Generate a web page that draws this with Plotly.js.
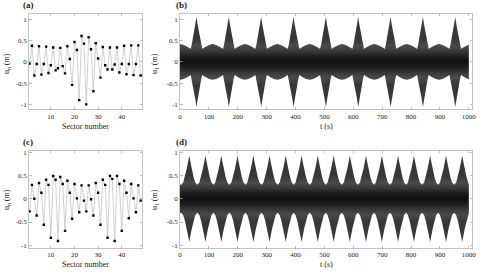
<!DOCTYPE html>
<html><head><meta charset="utf-8">
<script src="https://cdn.plot.ly/plotly-3.0.1.min.js"></script>
<style>html,body{margin:0;padding:0;background:#fff;}#plot{width:495px;height:272px;}</style>
</head><body><div id="plot"></div>
<script>
// Sector numbers for panels (a) and (c)
const sectors = [1,2,3,4,5,6,7,8,9,10,11,12,13,14,15,16,17,18,19,20,21,22,23,24,25,26,27,28,29,30,31,32,33,34,35,36,37,38,39,40,41,42,43,44,45,46,47,48];
// Panel (a): displacement per sector
const uA = [-0.04,0.38,-0.32,-0.05,0.37,-0.30,-0.05,0.36,-0.26,-0.08,0.34,-0.20,-0.15,0.33,-0.10,-0.27,0.37,0.07,-0.54,0.47,0.28,-0.90,0.61,0.43,-1.00,0.58,0.30,-0.69,0.44,0.08,-0.37,0.35,-0.08,-0.18,0.34,-0.18,-0.06,0.34,-0.25,-0.05,0.38,-0.29,-0.05,0.39,-0.31,-0.05,0.39,-0.32];
// Panel (c): displacement per sector
const uC = [-0.27,0.30,0.00,-0.36,0.34,0.13,-0.56,0.41,0.30,-0.84,0.49,0.41,-0.91,0.47,0.32,-0.69,0.39,0.13,-0.43,0.32,0.01,-0.29,0.29,-0.04,-0.27,0.29,-0.01,-0.36,0.34,0.13,-0.56,0.41,0.30,-0.84,0.49,0.43,-0.91,0.49,0.32,-0.69,0.39,0.13,-0.42,0.32,0.01,-0.29,0.29,-0.04];

// Panel (b): envelope of u1(t) (upper; lower is the mirror)
const tB = [0,13,25,
37,41,45,49,53,57,61,65,69,73,77,89,101,113,125,137,
149,153,157,161,165,169,173,177,181,185,189,201,213,225,237,249,
261,265,269,273,277,281,285,289,293,297,301,313,325,337,349,361,
373,377,381,385,389,393,397,401,405,409,413,425,437,449,461,473,
485,489,493,497,501,505,509,513,517,521,525,537,549,561,573,585,
597,601,605,609,613,617,621,625,629,633,637,649,661,673,685,697,
709,713,717,721,725,729,733,737,741,745,749,761,773,785,797,809,
821,825,829,833,837,841,845,849,853,857,861,873,885,897,909,921,
933,937,941,945,949,953,957,961,965,969,973,985,997,1000];
const envB = [0.42,0.40,0.36,
0.31,0.42,0.56,0.72,0.88,1.06,0.88,0.72,0.56,0.42,0.31,0.36,0.40,0.42,0.40,0.36,
0.31,0.42,0.56,0.72,0.88,1.06,0.88,0.72,0.56,0.42,0.31,0.36,0.40,0.42,0.40,0.36,
0.31,0.42,0.56,0.72,0.88,1.06,0.88,0.72,0.56,0.42,0.31,0.36,0.40,0.42,0.40,0.36,
0.31,0.42,0.56,0.72,0.88,1.06,0.88,0.72,0.56,0.42,0.31,0.36,0.40,0.42,0.40,0.36,
0.31,0.42,0.56,0.72,0.88,1.06,0.88,0.72,0.56,0.42,0.31,0.36,0.40,0.42,0.40,0.36,
0.31,0.42,0.56,0.72,0.88,1.06,0.88,0.72,0.56,0.42,0.31,0.36,0.40,0.42,0.40,0.36,
0.31,0.42,0.56,0.72,0.88,1.06,0.88,0.72,0.56,0.42,0.31,0.36,0.40,0.42,0.40,0.36,
0.31,0.42,0.56,0.72,0.88,1.06,0.88,0.72,0.56,0.42,0.31,0.36,0.40,0.42,0.40,0.36,
0.31,0.42,0.56,0.72,0.88,1.06,0.88,0.72,0.56,0.42,0.31,0.36,0.40,0.405];

// Panel (d): envelope of u1(t)
const tD = [0,4,
11,17,23,28,32,36,41,47,53,60,
67,73,79,84,88,92,97,103,109,116,
122,128,134,139,143,147,152,158,164,171,
178,184,190,195,199,203,208,214,220,227,
233,239,245,250,254,258,263,269,275,282,
289,295,301,306,310,314,319,325,331,338,
345,351,357,362,366,370,375,381,387,394,
400,406,412,417,421,425,430,436,442,449,
456,462,468,473,477,481,486,492,498,505,
511,517,523,528,532,536,541,547,553,560,
567,573,579,584,588,592,597,603,609,616,
623,629,635,640,644,648,653,659,665,672,
678,684,690,695,699,703,708,714,720,727,
734,740,746,751,755,759,764,770,776,783,
789,795,801,806,810,814,819,825,831,838,
845,851,857,862,866,870,875,881,887,894,
900,906,912,917,921,925,930,936,942,949,
956,962,968,973,977,981,986,992,998,1000];
const envD = [0.31,0.30,
0.35,0.47,0.64,0.80,0.93,0.80,0.64,0.47,0.35,0.30,
0.35,0.47,0.64,0.80,0.93,0.80,0.64,0.47,0.35,0.30,
0.35,0.47,0.64,0.80,0.93,0.80,0.64,0.47,0.35,0.30,
0.35,0.47,0.64,0.80,0.93,0.80,0.64,0.47,0.35,0.30,
0.35,0.47,0.64,0.80,0.93,0.80,0.64,0.47,0.35,0.30,
0.35,0.47,0.64,0.80,0.93,0.80,0.64,0.47,0.35,0.30,
0.35,0.47,0.64,0.80,0.93,0.80,0.64,0.47,0.35,0.30,
0.35,0.47,0.64,0.80,0.93,0.80,0.64,0.47,0.35,0.30,
0.35,0.47,0.64,0.80,0.93,0.80,0.64,0.47,0.35,0.30,
0.35,0.47,0.64,0.80,0.93,0.80,0.64,0.47,0.35,0.30,
0.35,0.47,0.64,0.80,0.93,0.80,0.64,0.47,0.35,0.30,
0.35,0.47,0.64,0.80,0.93,0.80,0.64,0.47,0.35,0.30,
0.35,0.47,0.64,0.80,0.93,0.80,0.64,0.47,0.35,0.30,
0.35,0.47,0.64,0.80,0.93,0.80,0.64,0.47,0.35,0.30,
0.35,0.47,0.64,0.80,0.93,0.80,0.64,0.47,0.35,0.30,
0.35,0.47,0.64,0.80,0.93,0.80,0.64,0.47,0.35,0.30,
0.35,0.47,0.64,0.80,0.93,0.80,0.64,0.47,0.35,0.30,
0.35,0.47,0.64,0.80,0.93,0.80,0.64,0.47,0.35,0.31];

// Tick labels
const yTickVals = [-1,-0.5,0,0.5,1];
const yTickText = ['-1','-0.5','0','0.5','1'];
const sectorTicks = [10,20,30,40];
const timeTicks = [0,100,200,300,400,500,600,700,800,900,1000];
const timeTickText = ['0','100','200','300','400','500','600','700','800','900','1000'];

const W = 495, H = 272;
const px = x => x / W, py = y => 1 - y / H;
const serif = '"Liberation Serif", serif';

function sectorTrace(y, xa, ya) {
  return {x: sectors, y: y, xaxis: xa, yaxis: ya, type: 'scatter', mode: 'lines+markers',
    line: {color: '#c4c4c4', width: 0.8},
    marker: {symbol: 'square', size: 2.4, color: '#000'}, hoverinfo: 'skip'};
}
function envTrace(t, env, xa, ya, lo, hi) {
  const xs = t.concat(t.slice().reverse());
  const ys = env.concat(env.map(v => -v).reverse());
  return {x: xs, y: ys, xaxis: xa, yaxis: ya, type: 'scatter', mode: 'lines', fill: 'toself',
    line: {width: 0, color: 'rgba(0,0,0,0)'},
    fillgradient: {type: 'vertical', start: lo, stop: hi,
      colorscale: [[0, '#3e3e3e'], [0.25, '#363636'], [0.33, '#4a4a4a'], [0.38, '#3a3a3a'], [0.44, '#1e1e1e'], [0.5, '#101010'],
                   [0.56, '#1e1e1e'], [0.62, '#3a3a3a'], [0.67, '#4a4a4a'], [0.75, '#363636'], [1, '#3e3e3e']]},
    hoverinfo: 'skip'};
}

const data = [
  sectorTrace(uA, 'x', 'y'),
  envTrace(tB, envB, 'x2', 'y2', -1.1, 1.1),
  sectorTrace(uC, 'x3', 'y3'),
  envTrace(tD, envD, 'x4', 'y4', -1.0, 1.0)
];

const axBase = {showline: true, mirror: 'ticks', linecolor: '#b4b4b4', linewidth: 0.8,
  ticks: 'inside', ticklen: 2.5, tickwidth: 0.7, tickcolor: '#a0a0a0',
  showgrid: false, zeroline: false, tickfont: {family: serif, size: 7, color: '#222'}, fixedrange: true};

const row1 = [py(109.5), py(13.5)], row2 = [py(248.5), py(150.5)];
const colA = [px(29), px(142.3)], colB = [px(180), px(472.3)];

function ann(text, x, y, size, angle) {
  const a = {text: text, x: px(x), y: py(y), xref: 'paper', yref: 'paper', showarrow: false,
    xanchor: 'center', yanchor: 'middle', font: {family: serif, size: size, color: '#1a1a1a'}};
  if (angle) a.textangle = angle;
  return a;
}

const layout = {
  width: W, height: H, margin: {l: 0, r: 0, t: 0, b: 0},
  paper_bgcolor: '#fff', plot_bgcolor: '#fff', showlegend: false,
  xaxis:  Object.assign({}, axBase, {domain: colA, range: [0.75, 48.7], tickvals: sectorTicks, anchor: 'y'}),
  yaxis:  Object.assign({}, axBase, {domain: row1, range: [-1.12, 1.14], tickvals: yTickVals, ticktext: yTickText, anchor: 'x'}),
  xaxis2: Object.assign({}, axBase, {domain: colB, range: [0, 1012], tickvals: timeTicks, ticktext: timeTickText, anchor: 'y2'}),
  yaxis2: Object.assign({}, axBase, {domain: row1, range: [-1.12, 1.14], tickvals: yTickVals, ticktext: yTickText, anchor: 'x2'}),
  xaxis3: Object.assign({}, axBase, {domain: colA, range: [0.75, 48.7], tickvals: sectorTicks, anchor: 'y3', ticklabelstandoff: -1}),
  yaxis3: Object.assign({}, axBase, {domain: row2, range: [-1.07, 1.04], tickvals: yTickVals, ticktext: yTickText, anchor: 'x3'}),
  xaxis4: Object.assign({}, axBase, {domain: colB, range: [0, 1012], tickvals: timeTicks, ticktext: timeTickText, anchor: 'y4', ticklabelstandoff: -1}),
  yaxis4: Object.assign({}, axBase, {domain: row2, range: [-1.07, 1.04], tickvals: yTickVals, ticktext: yTickText, anchor: 'x4'}),
  annotations: [
    ann('<b>(a)</b>', 28, 5, 9), ann('<b>(b)</b>', 181, 5, 9),
    ann('<b>(c)</b>', 28, 142, 9), ann('<b>(d)</b>', 181, 142, 9),
    ann('u<sub>n</sub> (m)', 7, 64, 8, -90), ann('u<sub>1</sub> (m)', 155, 64, 8, -90),
    ann('u<sub>n</sub> (m)', 7, 200, 8, -90), ann('u<sub>1</sub> (m)', 155, 200, 8, -90),
    ann('Sector number', 85.7, 126, 8), ann('t (s)', 326, 126, 8),
    ann('Sector number', 85.7, 264.5, 8), ann('t (s)', 326, 264.5, 8)
  ]
};

Plotly.newPlot('plot', data, layout, {staticPlot: true, displayModeBar: false});
</script></body></html>
